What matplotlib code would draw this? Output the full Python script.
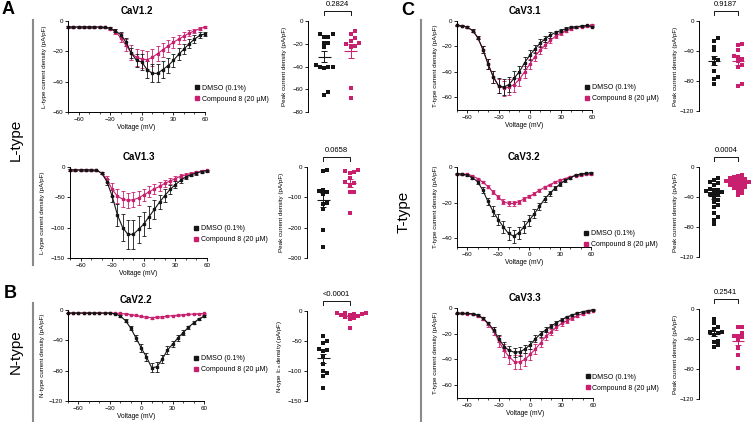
import numpy as np
import matplotlib
matplotlib.use("Agg")
import matplotlib.pyplot as plt
from matplotlib.lines import Line2D

plt.rcParams["font.family"] = ["Liberation Sans", "DejaVu Sans"]
plt.rcParams["mathtext.default"] = "regular"

BLACK = "#151515"
PINK = "#c8206e"

# Voltage steps for all I-V curves (mV)
volts = [-70, -65, -60, -55, -50, -45, -40, -35, -30, -25, -20, -15, -10, -5,
         0, 5, 10, 15, 20, 25, 30, 35, 40, 45, 50, 55, 60]

# CaV1.2 I-V (pA/pF)
cav12_dmso = [-4, -4, -4, -4, -4, -4, -4, -4.2, -4.8, -6.5, -9, -14, -21, -26,
              -27, -32, -34.5, -34.5, -32, -29.5, -26, -22, -18.5, -15, -12, -9.5, -8.5]
cav12_dmso_err = [0.5, 0.5, 0.5, 0.5, 0.5, 0.5, 0.5, 0.5, 0.6, 1, 1.5, 2.5, 3.5, 4.5,
                  5, 5.5, 6, 6, 5.5, 5, 4.5, 4, 3.5, 3, 2.5, 2, 1.5]
cav12_cmp = [-4, -4, -4, -4, -4, -4, -4, -4.2, -5, -7, -11, -16, -21, -24,
             -25, -25.5, -24, -21.5, -19, -16.5, -14, -12, -10, -8, -6.5, -5, -4]
cav12_cmp_err = [0.5, 0.5, 0.5, 0.5, 0.5, 0.5, 0.5, 0.5, 0.8, 1.5, 3, 4, 5, 5.5,
                 6, 6, 5.5, 5, 4.5, 4, 3.5, 3, 2.5, 2, 1.5, 1, 0.8]

# CaV1.3 I-V
cav13_dmso = [-5, -5, -5, -5, -5, -5.5, -10, -24, -48, -79, -100, -111, -111, -103,
              -94, -82, -70, -58, -47, -37, -29, -22, -16.5, -12.5, -10, -7.5, -6]
cav13_dmso_err = [1, 1, 1, 1, 1, 1, 2, 5, 10, 18, 22, 24, 24, 22,
                  20, 18, 15, 12, 10, 8, 6, 5, 4, 3, 2.5, 2, 1.5]
cav13_cmp = [-5, -5, -5, -5, -5, -5.5, -10, -20, -37, -48, -53, -55, -54, -51,
             -46, -41, -36, -32, -27, -23, -19, -15, -13, -11, -9, -7, -5.5]
cav13_cmp_err = [1, 1, 1, 1, 1, 1, 2, 5, 10, 12, 13, 12, 12, 11,
                 10, 9, 8, 7, 6, 5, 4, 3.5, 3, 2.5, 2, 1.5, 1.2]

# CaV2.2 I-V
cav22_dmso = [-4, -4, -4, -4, -4, -4, -4, -4, -4, -5, -8, -14, -24, -37,
              -50, -62, -76, -75, -65, -53, -45, -37, -30, -23, -17, -12, -8]
cav22_dmso_err = [0.5, 0.5, 0.5, 0.5, 0.5, 0.5, 0.5, 0.5, 0.5, 0.8, 1.5, 2, 3, 4,
                  5, 5.5, 6, 6.5, 5.5, 5, 4, 3.5, 3, 2.5, 2, 1.5, 1]
cav22_cmp = [-4, -4, -4, -4, -4, -4, -4, -4, -4, -4.2, -4.6, -5.2, -6, -7.2,
             -8.5, -9.5, -10, -9.6, -9, -8.2, -7.4, -6.8, -6.2, -5.6, -5.2, -5, -4.6]
cav22_cmp_err = [0.4, 0.4, 0.4, 0.4, 0.4, 0.4, 0.4, 0.4, 0.4, 0.4, 0.5, 0.6, 0.8, 1,
                 1.2, 1.3, 1.4, 1.3, 1.2, 1, 0.9, 0.8, 0.7, 0.6, 0.5, 0.5, 0.5]

# CaV3.1 I-V
cav31_dmso = [-3.5, -3.8, -5, -7.5, -13, -22.5, -34, -44, -51, -52, -50, -45, -40, -33,
              -27, -22, -17.5, -14, -11, -9, -7.5, -6, -5, -4.5, -4, -3.5, -4.5]
cav31_dmso_err = [0.5, 0.5, 0.8, 1, 1.5, 2.5, 4, 5, 6, 6.5, 6, 5.5, 5, 4.5,
                  4, 3.5, 3, 2.5, 2, 1.5, 1.2, 1, 0.8, 0.7, 0.6, 0.5, 0.5]
cav31_cmp = [-3.5, -3.8, -5, -7.5, -13, -22.5, -34, -44, -51, -53, -52, -50, -46, -40,
             -34, -28, -23, -19, -15, -12, -9.5, -7.5, -6, -5, -4.5, -4, -3]
cav31_cmp_err = [0.5, 0.5, 0.8, 1, 1.5, 2.5, 4, 5, 5.5, 6, 6, 5.5, 5, 4.5,
                 4, 3.5, 3, 2.5, 2, 1.5, 1.2, 1, 0.8, 0.7, 0.6, 0.5, 0.5]

# CaV3.2 I-V
cav32_dmso = [-3.7, -4, -4.5, -6, -8.3, -13, -19.4, -25, -29.6, -33.7, -37.4, -38.9, -37, -33.7,
              -30, -26.3, -22.2, -18, -14.8, -12, -9.6, -7.4, -6, -4.6, -4, -3.5, -3.3]
cav32_dmso_err = [0.3, 0.3, 0.4, 0.6, 1, 1.5, 2.2, 2.8, 3.2, 3.5, 3.6, 3.7, 3.5, 3.2,
                  3, 2.6, 2.2, 1.8, 1.5, 1.2, 1, 0.8, 0.6, 0.5, 0.4, 0.4, 0.3]
cav32_cmp = [-4, -4, -4, -5, -6.5, -8.5, -11, -14, -17, -19.5, -20.5, -20.5, -19.5, -18,
             -16.5, -15, -13, -11.5, -10, -8.5, -7.5, -6.5, -5.5, -5, -4.5, -4, -4]
cav32_cmp_err = [0.3, 0.3, 0.3, 0.4, 0.5, 0.7, 0.9, 1, 1.2, 1.3, 1.3, 1.3, 1.2, 1.1,
                 1, 0.9, 0.8, 0.7, 0.6, 0.5, 0.5, 0.4, 0.4, 0.3, 0.3, 0.3, 0.3]

# CaV3.3 I-V
cav33_dmso = [-4, -4, -4.2, -4.5, -5.5, -8, -12, -17, -24, -30, -33, -34.5, -34, -32,
              -28.5, -24, -20, -17, -14, -11.5, -9, -7, -5.5, -4, -3, -2, -1.5]
cav33_dmso_err = [0.4, 0.4, 0.4, 0.5, 0.6, 1, 1.5, 2, 2.8, 3.2, 3.5, 3.5, 3.5, 3.3,
                  3, 2.8, 2.5, 2, 1.8, 1.5, 1.2, 1, 0.8, 0.6, 0.5, 0.4, 0.4]
cav33_cmp = [-4, -4.2, -4.5, -5, -6, -8.5, -12.5, -18, -26, -33, -38, -42, -42, -40,
             -36, -32, -27, -22, -18.5, -15, -12, -10, -8, -6, -4.5, -3, -2]
cav33_cmp_err = [0.4, 0.4, 0.5, 0.5, 0.7, 1.2, 2, 3, 4, 5, 5.5, 5.5, 5.5, 5,
                 4.5, 4, 3.5, 3, 2.5, 2, 1.8, 1.5, 1.2, 1, 0.8, 0.6, 0.5]

# Peak current density per cell (pA/pF)
peak12_dmso = [-11, -11, -14, -14, -19, -19, -23, -40, -39, -40, -41, -40, -62, -65]
peak12_cmp = [-9, -11.5, -15, -18, -19.5, -20.5, -22, -22.5, -58.5, -67.5]
peak13_dmso = [-11, -12, -75, -78, -84, -88, -118, -122, -137, -207, -264]
peak13_cmp = [-11, -14, -17, -20, -37, -48, -53, -59, -81, -84, -151]
peak22_dmso = [-42, -50, -53, -64, -65, -66, -76, -88, -100, -104, -108, -128]
peak22_cmp = [-3, -4, -4, -5, -5, -6, -7, -8, -10, -12, -14, -29]
peak31_dmso = [-22, -26, -34, -39, -49, -52, -56, -67, -75, -77, -84]
peak31_cmp = [-31, -32, -39, -46, -48, -50, -53, -59, -61, -84, -87]
peak32_dmso = [-14, -17, -20, -21, -24, -29, -30, -31, -32, -33, -35, -36, -36, -40,
               -44, -47, -50, -53, -61, -66, -70, -76]
peak32_cmp = [-10, -12, -13, -14, -15, -16, -17, -18, -18, -19, -20, -20, -21, -22,
              -23, -24, -25, -26, -27, -28, -30, -32, -35, -37]
peak33_dmso = [-13, -18, -24, -27, -30, -31, -32, -34, -43, -44, -48, -50]
peak33_cmp = [-24, -24, -32, -36, -36, -37, -41, -52, -61, -79]

p_values = ["0.2824", "0.0658", "<0.0001", "0.9187", "0.0004", "0.2541"]
legend_labels = ["DMSO (0.1%)", "Compound 8 (20 µM)"]

W, H = 751, 422
fig = plt.figure(figsize=(W / 100, H / 100), dpi=100)


def px_axes(x0, y0, x1, y1):
    return fig.add_axes([x0 / W, 1 - y1 / H, (x1 - x0) / W, (y1 - y0) / H])


def iv_panel(box, title, dmso, dmso_err, cmp_, cmp_err, ylim, yticks, ylabel, ylab_x, leg_xy):
    ax = px_axes(*box)
    for y, e, c in [(cmp_, cmp_err, PINK), (dmso, dmso_err, BLACK)]:
        ax.errorbar(volts, y, yerr=e, color=c, marker="s", ms=2.0, lw=0.8,
                    elinewidth=0.6, capsize=1.2, capthick=0.6, clip_on=False)
    ax.set_xlim(-70, 60)
    ax.set_ylim(*ylim)
    ax.set_xticks([-60, -30, 0, 30, 60])
    ax.set_xticks([-70, -50, -40, -20, -10, 10, 20, 40, 50], minor=True)
    ax.set_yticks(yticks)
    ax.tick_params(labelsize=4.5, length=2, width=0.6, pad=1.5, direction="out")
    ax.tick_params(which="minor", length=1.2, width=0.5)
    for s in ["top", "right"]:
        ax.spines[s].set_visible(False)
    for s in ["left", "bottom"]:
        ax.spines[s].set_linewidth(0.7)
    ax.set_title(title, fontsize=7, fontweight="bold", pad=5)
    ax.set_xlabel("Voltage (mV)", fontsize=4.8, labelpad=1.5)
    ax.set_ylabel(ylabel, fontsize=4.5)
    ax.yaxis.set_label_coords((ylab_x - box[0]) / (box[2] - box[0]), 0.5)
    handles = [Line2D([], [], ls="none", marker="s", ms=2.3, color=BLACK),
               Line2D([], [], ls="none", marker="s", ms=2.3, color=PINK)]
    ax.legend(handles, legend_labels, loc="upper left", bbox_to_anchor=leg_xy,
              frameon=False, fontsize=5, handlelength=0.4, handletextpad=0.5,
              borderaxespad=0, borderpad=0, labelspacing=0.55)
    return ax


def swarm(vals, yspan, hpx, upx, step=0.16):
    # spread overlapping points sideways, beeswarm style
    placed = []
    xs = np.zeros(len(vals))
    for i in np.argsort(vals):
        y = vals[i] / yspan * hpx
        for k in [0, 1, -1, 2, -2, 3, -3, 4, -4]:
            dx = k * step
            if all(abs(dx - px) * upx > 3.6 or abs(y - py) > 3.6 for px, py in placed):
                break
        placed.append((dx, y))
        xs[i] = dx
    return xs


def peak_panel(box, dmso, cmp_, ylim, yticks, ylabel, ylab_x, pval):
    ax = px_axes(*box)
    xlim = (-0.62, 1.55)
    ax.set_xlim(*xlim)
    ax.set_ylim(*ylim)
    hpx = box[3] - box[1]
    upx = (box[2] - box[0]) / (xlim[1] - xlim[0])
    for pos, vals, c in [(0, dmso, BLACK), (1, cmp_, PINK)]:
        vals = np.array(vals, dtype=float)
        xs = pos + swarm(vals, ylim[1] - ylim[0], hpx, upx)
        ax.scatter(xs, vals, marker="s", s=5, color=c, linewidths=0, clip_on=False, zorder=3)
        m = vals.mean()
        sem = vals.std(ddof=1) / np.sqrt(len(vals))
        ax.hlines(m, pos - 0.25, pos + 0.25, color=c, lw=0.8, zorder=4)
        ax.errorbar(pos, m, yerr=sem, color=c, elinewidth=0.7, capsize=2,
                    capthick=0.7, fmt="none", zorder=4)
    ax.set_yticks(yticks)
    ax.set_xticks([])
    ax.tick_params(labelsize=4.5, length=2, width=0.6, pad=1.5)
    for s in ["top", "right", "bottom"]:
        ax.spines[s].set_visible(False)
    ax.spines["left"].set_linewidth(0.7)
    ax.set_ylabel(ylabel, fontsize=4.5)
    ax.yaxis.set_label_coords((ylab_x - box[0]) / (box[2] - box[0]), 0.5)
    tr = ax.get_xaxis_transform()
    top = 1 + 10 / hpx
    tip = 1 + 6 / hpx
    ax.plot([0, 0, 1, 1], [tip, top, top, tip], color=BLACK, lw=0.7,
            transform=tr, clip_on=False)
    ax.text(0.5, 1 + 13 / hpx, pval, transform=tr, ha="center", va="bottom", fontsize=5.5)
    return ax


lt_label = "L-type current density (pA/pF)"
tt_label = "T-type current density (pA/pF)"
pk_label = "Peak current density (pA/pF)"

iv_panel((68, 21, 205, 112), "CaV1.2", cav12_dmso, cav12_dmso_err, cav12_cmp, cav12_cmp_err,
         (-60, 0), [0, -20, -40, -60], lt_label, 47, (0.93, 0.30))
iv_panel((70, 167, 207, 258), "CaV1.3", cav13_dmso, cav13_dmso_err, cav13_cmp, cav13_cmp_err,
         (-150, 0), [0, -50, -100, -150], lt_label, 45, (0.91, 0.36))
iv_panel((68, 310, 204, 401), "CaV2.2", cav22_dmso, cav22_dmso_err, cav22_cmp, cav22_cmp_err,
         (-120, 0), [0, -40, -80, -120], "N-type current density (pA/pF)", 45, (0.93, 0.50))
iv_panel((457, 21, 592, 110), "CaV3.1", cav31_dmso, cav31_dmso_err, cav31_cmp, cav31_cmp_err,
         (-70, 0), [0, -20, -40, -60], tt_label, 438, (0.95, 0.29))
iv_panel((457, 167, 591, 247), "CaV3.2", cav32_dmso, cav32_dmso_err, cav32_cmp, cav32_cmp_err,
         (-45, 0), [0, -20, -40], tt_label, 438, (0.95, 0.21))
iv_panel((457, 308, 593, 398), "CaV3.3", cav33_dmso, cav33_dmso_err, cav33_cmp, cav33_cmp_err,
         (-70, 0), [0, -20, -40, -60], tt_label, 438, (0.95, 0.27))

peak_panel((308, 21, 365, 112), peak12_dmso, peak12_cmp, (-80, 0), [0, -20, -40, -60, -80],
           pk_label, 287, p_values[0])
peak_panel((307, 167, 364, 258), peak13_dmso, peak13_cmp, (-300, 0), [0, -100, -200, -300],
           pk_label, 284, p_values[1])
peak_panel((307, 311, 364, 401), peak22_dmso, peak22_cmp, (-150, 0), [0, -50, -100, -150],
           "N-type I$_{Ca}$ density (pA/pF)", 284, p_values[2])
peak_panel((699, 21, 751, 111), peak31_dmso, peak31_cmp, (-120, 0), [0, -40, -80, -120],
           pk_label, 678, p_values[3])
peak_panel((699, 167, 751, 257), peak32_dmso, peak32_cmp, (-120, 0), [0, -40, -80, -120],
           pk_label, 678, p_values[4])
peak_panel((699, 309, 751, 399), peak33_dmso, peak33_cmp, (-120, 0), [0, -40, -80, -120],
           pk_label, 678, p_values[5])

# Panel letters, channel-type labels and grey separators
for letter, x, y in [("A", 2, 1), ("B", 4, 285), ("C", 401, 2)]:
    fig.text(x / W, 1 - y / H, letter, fontsize=13, fontweight="bold", va="top", ha="left")
for name, x, y in [("L-type", 16, 140), ("N-type", 16, 352), ("T-type", 404, 212)]:
    fig.text(x / W, 1 - y / H, name, fontsize=11, rotation=90, ha="center", va="center")
for x, y0, y1 in [(33, 20, 265), (33, 303, 422), (421, 20, 422)]:
    fig.add_artist(Line2D([x / W, x / W], [1 - y0 / H, 1 - y1 / H], color="#8a8a8a", lw=1.5))

fig.savefig("out.png", dpi=100)
